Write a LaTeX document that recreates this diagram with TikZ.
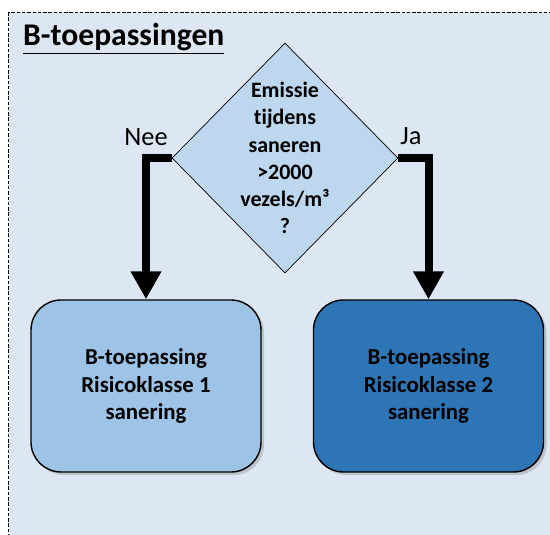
\documentclass[tikz,border=0pt]{standalone}
\usepackage{fontspec}
\setmainfont{Carlito}[Ligatures=NoCommon]
\usetikzlibrary{shapes.geometric,arrows.meta,shadows,positioning}
\begin{document}
\begin{tikzpicture}[
    keuze/.style={diamond,draw=black,thin,fill=diamondblue,inner sep=0pt,minimum width=4.52cm,minimum height=4.6cm},
    klasse/.style={rectangle,rounded corners=0.6cm,draw=black,thick,minimum width=4.6cm,minimum height=3.44cm,
        font=\fontsize{13}{15.6}\selectfont\bfseries,align=center,
        drop shadow={opacity=0.35,shadow xshift=0.06cm,shadow yshift=-0.06cm}},
    pijl/.style={line width=0.16cm,-{Triangle[width=0.58cm,length=0.56cm]}},
    tak/.style={font=\fontsize{15}{18}\selectfont}
  ]
    % Define colors
    \definecolor{achtergrond}{RGB}{221,231,243}
    \definecolor{diamondblue}{RGB}{189,215,238}
    \definecolor{lichtblauw}{RGB}{157,195,230}
    \definecolor{donkerblauw}{RGB}{46,117,182}

    % Fix the size of the picture
    \useasboundingbox (0,0) rectangle (11,-10.68);

    % Draw the dashed frame
    \begin{scope}
      \clip (0,0) rectangle (11,-10.68);
      \draw[dash pattern=on 2pt off 1pt,fill=achtergrond] (0.17,-0.24) rectangle (11.3,-11);
    \end{scope}
    \node[anchor=west,font=\fontsize{18}{21}\selectfont\bfseries] (titel) at (0.34,-0.77) {\underline{B-toepassingen}};

    % Draw the question
    \node[keuze] (vraag) at (5.70,-3.16) {};
    \node[align=center,font=\fontsize{12.5}{15.5}\selectfont\bfseries] (vraagtekst) at (vraag.center)
      {Emissie\\tijdens\\saneren\\>2000\\vezels/m³\\?};

    % Draw the two outcomes
    \node[klasse,fill=lichtblauw] (klasse1) at (2.92,-7.72) {B-toepassing\\Risicoklasse 1\\sanering};
    \node[klasse,fill=donkerblauw] (klasse2) at (8.57,-7.72) {B-toepassing\\Risicoklasse 2\\sanering};

    % Draw the arrows
    \draw[pijl] (vraag.west) -| (klasse1.north);
    \draw[pijl] (vraag.east) -| (klasse2.north);
    \node[tak] (nee) at (2.92,-2.74) {Nee};
    \node[tak] (ja) at (8.22,-2.72) {Ja};
\end{tikzpicture}
\end{document}
